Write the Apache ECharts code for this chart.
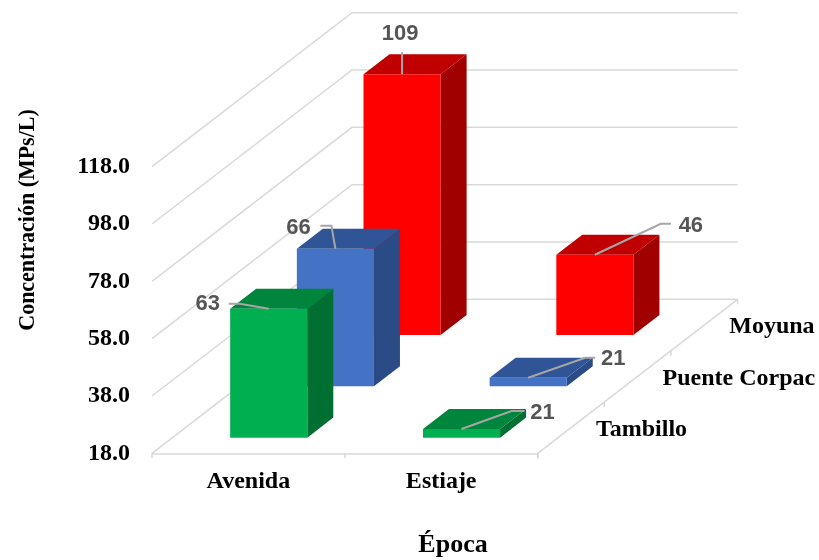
<!DOCTYPE html>
<html>
<head>
<meta charset="utf-8">
<script src="https://cdn.jsdelivr.net/npm/echarts@6/dist/echarts.min.js"></script>
<style>
  html, body { margin: 0; padding: 0; background: #fff; }
  #chart { width: 819px; height: 560px; }
</style>
</head>
<body>
<div id="chart"></div>
<script>
// ---- data ----
const epocas = ['Avenida', 'Estiaje'];
const sitios = ['Tambillo', 'Puente Corpac', 'Moyuna'];
const tambillo = [63, 21];
const puenteCorpac = [66, 21];
const moyuna = [109, 46];
const yTicks = [18, 38, 58, 78, 98, 118];

// ---- look ----
const SERIF = '"Liberation Serif", "Times New Roman", serif';
const SANS = '"Liberation Sans", Arial, sans-serif';
const GRID_COLOR = '#d9d9d9';
const DEPTH = [200, -154];   // oblique vector spanning the full floor depth (px)
const BAR_W = 0.4;           // bar width as share of the category band
const BAR_D = 0.13;          // bar depth as share of the floor depth

const siteColors = [
  { front: '#00b050', top: '#00853c', side: '#006f32' },   // Tambillo
  { front: '#4472c4', top: '#2f5597', side: '#2a4b86' },   // Puente Corpac
  { front: '#ff0000', top: '#c00000', side: '#a00000' }    // Moyuna
];

// label placement relative to the middle of each bar's front-top edge
const labelLayout = [
  [ { text: [-61, -5],  leader: [[-29, -5], [-40, -5]] },
    { text: [81, -16],  leader: [[50, -18], [63, -18]] } ],
  [ { text: [-37, -21], leader: [[-4, -23], [-15, -23]] },
    { text: [85, -19],  leader: [[57, -20], [67, -20]] } ],
  [ { text: [-2, -40],  leader: [[0, -22]] },
    { text: [96, -29],  leader: [[66, -31], [76, -31]] } ]
];

const yMin = yTicks[0];
const yMax = yTicks[yTicks.length - 1];
const yStep = yTicks[1] - yTicks[0];

// perspective walls: left wall diagonals + back wall horizontals
function wallItem(params, api) {
  const cs = params.coordSys;
  const y = api.coord([0, api.value(1)])[1];
  const L = [cs.x, y];
  const B = [cs.x + DEPTH[0], y + DEPTH[1]];
  const R = [cs.x + cs.width + DEPTH[0], y + DEPTH[1]];
  return {
    type: 'polyline',
    shape: { points: [L, B, R] },
    style: { stroke: GRID_COLOR, lineWidth: 1.5, fill: null }
  };
}

// right floor edge with the depth (site) categories
function depthAxisItem(params, api) {
  const cs = params.coordSys;
  const i = api.value(0);
  const n = sitios.length;
  const x0 = cs.x + cs.width, y0 = cs.y + cs.height;
  const children = [];
  const tick = (f) => {
    const px = x0 + DEPTH[0] * f, py = y0 + DEPTH[1] * f;
    return { type: 'line', shape: { x1: px, y1: py, x2: px, y2: py + 5 },
             style: { stroke: GRID_COLOR, lineWidth: 1.5 } };
  };
  if (i === 0) {
    children.push({ type: 'line',
      shape: { x1: x0, y1: y0, x2: x0 + DEPTH[0], y2: y0 + DEPTH[1] },
      style: { stroke: GRID_COLOR, lineWidth: 1.5 } });
    children.push(tick(0));
  }
  children.push(tick((i + 1) / n));
  const fc = (i + 0.5) / n;
  children.push({
    type: 'text',
    x: x0 + DEPTH[0] * fc + 25,
    y: y0 + DEPTH[1] * fc + 2,
    style: { text: sitios[i], fill: '#000', fontFamily: SERIF, fontWeight: 'bold',
             fontSize: 24, align: 'left', verticalAlign: 'middle' }
  });
  return { type: 'group', children };
}

function barRenderer(row) {
  const col = siteColors[row];
  return function (params, api) {
    const cat = api.value(0), val = api.value(1);
    const base = api.coord([cat, yMin]);
    const top = api.coord([cat, val]);
    const bw = api.size([1, 0])[0] * BAR_W;
    const f = (row + 0.5) / sitios.length - BAR_D / 2;
    const ox = DEPTH[0] * f, oy = DEPTH[1] * f;
    const dx = DEPTH[0] * BAR_D, dy = DEPTH[1] * BAR_D;
    const x0 = base[0] - bw / 2 + ox, x1 = x0 + bw;
    const yb = base[1] + oy, yt = top[1] + oy;
    const lay = labelLayout[row][params.dataIndex];
    const A = [(x0 + x1) / 2, yt];
    const leaderPts = [A].concat(lay.leader.map(p => [A[0] + p[0], A[1] + p[1]]));
    return {
      type: 'group',
      children: [
        { type: 'polygon', shape: { points: [[x1, yt], [x1 + dx, yt + dy], [x1 + dx, yb + dy], [x1, yb]] },
          style: { fill: col.side } },
        { type: 'polygon', shape: { points: [[x0, yt], [x0 + dx, yt + dy], [x1 + dx, yt + dy], [x1, yt]] },
          style: { fill: col.top } },
        { type: 'rect', shape: { x: x0, y: yt, width: bw, height: yb - yt },
          style: { fill: col.front } },
        { type: 'polyline', shape: { points: leaderPts },
          style: { stroke: '#a6a6a6', lineWidth: 2, fill: null } },
        { type: 'text', x: A[0] + lay.text[0], y: A[1] + lay.text[1],
          style: { text: String(val), fill: '#555555', fontFamily: SANS, fontWeight: 'bold',
                   fontSize: 22, align: 'center', verticalAlign: 'middle' } }
      ]
    };
  };
}

const siteValues = [tambillo, puenteCorpac, moyuna];
const barSeries = [];
for (let r = sitios.length - 1; r >= 0; r--) {
  barSeries.push({
    type: 'custom',
    name: sitios[r],
    clip: false,
    silent: true,
    renderItem: barRenderer(r),
    data: siteValues[r].map((v, i) => [i, v])
  });
}

const chart = echarts.init(document.getElementById('chart'), null, { renderer: 'canvas' });
chart.setOption({
  animation: false,
  backgroundColor: '#fff',
  grid: { left: 152, top: 166.7, width: 385.6, height: 286.6, containLabel: false, outerBoundsMode: 'none' },
  xAxis: {
    type: 'category',
    data: epocas,
    axisLine: { show: true, lineStyle: { color: GRID_COLOR, width: 1.5 } },
    axisTick: { show: true, length: 5, lineStyle: { color: GRID_COLOR, width: 1.5 } },
    axisLabel: { color: '#000', fontFamily: SERIF, fontWeight: 'bold', fontSize: 24, margin: 16 },
    splitLine: { show: false }
  },
  yAxis: {
    type: 'value',
    min: yMin,
    max: yMax,
    interval: yStep,
    axisLine: { show: false },
    axisTick: { show: false },
    splitLine: { show: false },
    axisLabel: {
      color: '#000', fontFamily: SERIF, fontWeight: 'bold', fontSize: 24, margin: 22,
      formatter: v => v.toFixed(1)
    }
  },
  graphic: [
    { type: 'text', x: 28, y: 220, rotation: Math.PI / 2, scaleX: 0.915,
      style: { text: 'Concentración (MPs/L)', fill: '#000', fontFamily: SERIF, fontWeight: 'bold',
               fontSize: 24, align: 'center', verticalAlign: 'middle' } },
    { type: 'text', x: 453, y: 545,
      style: { text: 'Época', fill: '#000', fontFamily: SERIF, fontWeight: 'bold',
               fontSize: 26, align: 'center', verticalAlign: 'middle' } }
  ],
  series: [
    {
      type: 'custom',
      name: 'walls',
      clip: false,
      silent: true,
      renderItem: wallItem,
      data: yTicks.map(v => [0, v])
    },
    ...barSeries,
    {
      type: 'custom',
      name: 'depthAxis',
      clip: false,
      silent: true,
      renderItem: depthAxisItem,
      data: sitios.map((s, i) => [i, yMin])
    }
  ]
});
</script>
</body>
</html>
